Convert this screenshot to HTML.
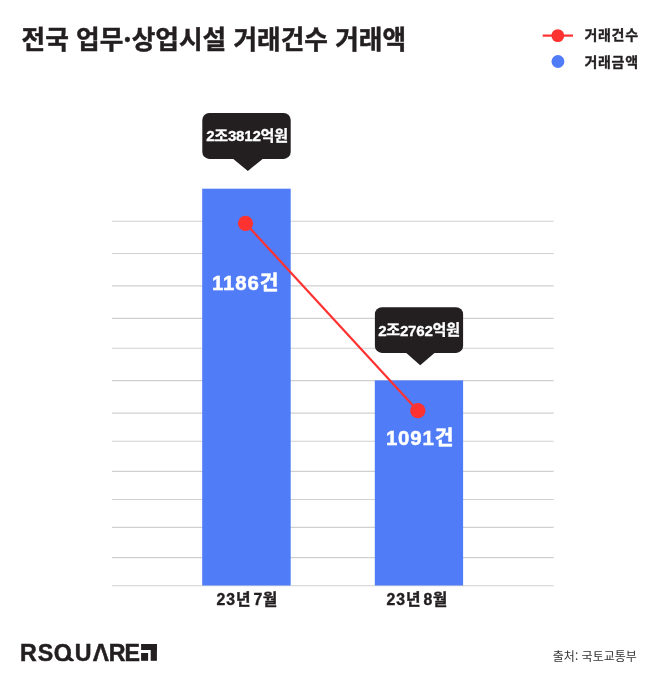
<!DOCTYPE html>
<html lang="ko">
<head>
<meta charset="utf-8">
<title>전국 업무·상업시설 거래건수 거래액</title>
<style>
html,body{margin:0;padding:0;background:#fff;}
body{width:664px;height:688px;position:relative;overflow:hidden;
  font-family:"Liberation Sans","Noto Sans CJK KR",sans-serif;color:#231f20;}
svg{position:absolute;left:0;top:0;display:block;}
svg text{font-family:"Liberation Sans","Noto Sans CJK KR",sans-serif;}
.kr{font-family:"Noto Sans CJK KR","Liberation Sans",sans-serif;}
</style>
</head>
<body>
<svg width="664" height="688" viewBox="0 0 664 688">
  <rect x="0" y="0" width="664" height="688" fill="#ffffff"/>

  <!-- grid lines -->
  <g stroke="#d0d0d0" stroke-width="1.1" fill="none">
    <line x1="112" x2="553.7" y1="221.2" y2="221.2"/>
    <line x1="112" x2="553.7" y1="253.5" y2="253.5"/>
    <line x1="112" x2="553.7" y1="285.9" y2="285.9"/>
    <line x1="112" x2="553.7" y1="318.4" y2="318.4"/>
    <line x1="112" x2="553.7" y1="348.3" y2="348.3"/>
    <line x1="112" x2="553.7" y1="380.6" y2="380.6"/>
    <line x1="112" x2="553.7" y1="413.1" y2="413.1"/>
    <line x1="112" x2="553.7" y1="441.3" y2="441.3"/>
    <line x1="112" x2="553.7" y1="471.4" y2="471.4"/>
    <line x1="112" x2="553.7" y1="499.5" y2="499.5"/>
    <line x1="112" x2="553.7" y1="527.4" y2="527.4"/>
    <line x1="112" x2="553.7" y1="557.6" y2="557.6"/>
    <line x1="112" x2="553.7" y1="585.7" y2="585.7"/>
  </g>

  <!-- bars -->
  <rect x="202.2" y="188.7" width="88.5" height="396.8" fill="#517cf8"/>
  <rect x="374.8" y="380.4" width="88.3" height="205.1" fill="#517cf8"/>

  <!-- line + dots -->
  <line x1="245.5" y1="223.3" x2="417.8" y2="410.7" stroke="#fd3231" stroke-width="2.2"/>
  <circle cx="245.5" cy="223.3" r="7.6" fill="#fd3231"/>
  <circle cx="417.8" cy="410.7" r="7.6" fill="#fd3231"/>

  <!-- tooltips -->
  <g fill="#231f20">
    <rect x="202.3" y="113" width="88.4" height="45.9" rx="7" ry="7"/>
    <path d="M230.9 156.9 L265.1 156.9 L247.85 171.05 Z"/>
    <rect x="374.9" y="307.3" width="88.2" height="45.6" rx="7" ry="7"/>
    <path d="M404.0 350.9 L436.8 350.9 L420.2 365.25 Z"/>
  </g>
  <g class="tt" fill="#ffffff" stroke="#ffffff" stroke-width="0.3" font-weight="700" font-size="15.1" text-anchor="middle" letter-spacing="-0.25">
    <text id="tt1" x="247.0" y="141.4" dy="0 -0.5 0.5 0 0 0 -0.5 0">2조3812억원</text>
    <text id="tt2" x="419.0" y="335.9" dy="0 -0.5 0.5 0 0 0 -0.5 0">2조2762억원</text>
  </g>

  <!-- bar value labels -->
  <g class="bv" fill="#ffffff" stroke="#ffffff" stroke-width="0.5" font-weight="700" font-size="20.4" text-anchor="middle" letter-spacing="0.85">
    <text id="bv1" x="245.6" y="289.5" dy="0 0 0 0 0.5">1186건</text>
    <text id="bv2" x="420.1" y="444.8" dy="0 0 0 0 0.5">1091건</text>
  </g>

  <!-- x labels -->
  <g class="xl" fill="#231f20" stroke="#231f20" stroke-width="0.4" font-weight="700" font-size="15.8">
    <text id="xl1" x="216.4" y="604.6" dx="0 1.1 1.0 0 -1.6 0.4">23년 7월</text>
    <text id="xl2" x="386.4" y="604.6" dx="0 1.1 1.0 0 -1.6 0.4">23년 8월</text>
  </g>

  <!-- title -->
  <text id="title" class="kr" x="21.6" y="49.1" font-size="25.7" font-weight="700" fill="#231f20" stroke="#231f20" stroke-width="0.45">전국 업무·상업시설 거래건수 거래액</text>

  <!-- legend -->
  <line x1="542.7" x2="573" y1="35.6" y2="35.6" stroke="#fd3231" stroke-width="2.2"/>
  <circle cx="557.8" cy="35.6" r="6.4" fill="#fd3231"/>
  <circle cx="557.95" cy="61.45" r="6.45" fill="#517cf8"/>
  <g class="kr" fill="#231f20" stroke="#231f20" stroke-width="0.3" font-weight="700" font-size="14" letter-spacing="0.7">
    <text id="lg1" class="kr" x="584.4" y="39.7">거래건수</text>
    <text id="lg2" class="kr" x="584.4" y="67.2">거래금액</text>
  </g>

  <!-- logo -->
  <text id="logo" x="20.1" dx="0 0.9 0.6 2.8 1.1 -0.4 -1.1" y="660.7" font-size="23.2" font-weight="700" fill="#231f20" stroke="#231f20" stroke-width="0.5">RSQUARE</text>
  <polygon points="99.07,653.0 102.71,653.0 104.08,657.6 97.71,657.6" fill="#ffffff"/>
  <line x1="66.6" y1="655.9" x2="73.2" y2="661.6" stroke="#231f20" stroke-width="3.3"/>
  <rect x="50" y="661.25" width="28" height="7" fill="#ffffff"/>
  <g fill="#231f20">
    <rect x="141.1" y="644" width="15.8" height="6"/>
    <rect x="150.7" y="644" width="6.2" height="16.8"/>
    <rect x="141.1" y="653" width="7" height="7.8"/>
  </g>

  <!-- source -->
  <text id="src" class="kr" x="636.8" y="661.4" font-size="12" font-weight="400" fill="#333333" text-anchor="end">출처: 국토교통부</text>
</svg>
</body>
</html>
